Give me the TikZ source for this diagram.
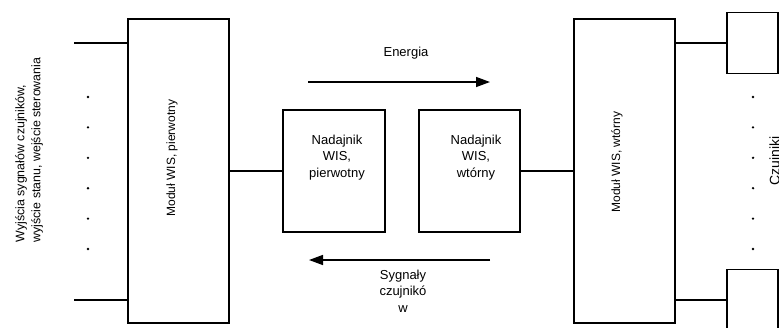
\documentclass[tikz,border=0pt]{standalone}
\usepackage{fontspec}
\setmainfont{Liberation Sans}
\usetikzlibrary{arrows.meta}
\tikzset{
  blok/.style={draw, line width=1.4pt, inner sep=0pt},
  lbl/.style={align=center, font=\fontsize{13}{16.5}\selectfont},
  rlbl/.style={rotate=90, font=\fontsize{12}{16}\selectfont},
  kropka/.style={fill=black},
  przeplyw/.style={line width=1.4pt, -{Triangle[length=14pt,width=10pt]}}
}
\begin{document}
\begin{tikzpicture}[x=1pt,y=-1pt,line width=1.4pt]
\useasboundingbox (0,0) rectangle (779,327);
\clip (0,0) rectangle (779,327);
% moduly
\node[blok, minimum width=101pt, minimum height=304pt] (modp) at (178.5,171) {};
\node[blok, minimum width=101pt, minimum height=304pt] (modw) at (624.5,171) {};
\node[rlbl] (modptxt) at (172,158) {Moduł WIS, pierwotny};
\node[rlbl] (modwtxt) at (617,162) {Moduł WIS, wtórny};
% nadajniki
\node[blok, minimum width=102pt, minimum height=122pt] (nadp) at (334,171) {};
\node[blok, minimum width=101pt, minimum height=122pt] (nadw) at (469.5,171) {};
\node[lbl] (nadptxt) at (337,157.5) {Nadajnik\\WIS,\\pierwotny};
\node[lbl] (nadwtxt) at (476,157.5) {Nadajnik\\WIS,\\wtórny};
\draw (modp.east) -- (nadp.west);
\draw (nadw.east) -- (modw.west);
% czujniki
\node[blok, minimum width=51pt, minimum height=61pt] (czt) at (752.5,43) {};
\node[blok, minimum width=51pt, minimum height=61pt] (czb) at (752.5,300) {};
\draw (modw.east |- czt.west) -- (czt.west);
\draw (modw.east |- czb.west) -- (czb.west);
\node[rotate=90, font=\fontsize{14}{16}\selectfont] (cztxt) at (776,161) {Czujniki};
% wejscia
\coordinate (we1) at (74,43);
\coordinate (we2) at (74,300);
\draw (we1) -- (we1 -| modp.west);
\draw (we2) -- (we2 -| modp.west);
\node[rlbl, align=left, font=\fontsize{12.4}{16}\selectfont] (wetxt) at (29,150)
  {Wyjścia sygnałów czujników,\\wyjście stanu, wejście sterowania};
% kropki
\foreach \i in {0,...,5}{
  \fill[kropka] (88,97+30.4*\i) circle [radius=1.3];
  \fill[kropka] (753,97+30.4*\i) circle [radius=1.3];
}
% strzalki
\coordinate (en1) at (308,82);
\coordinate (en2) at (490,82);
\coordinate (sy1) at (490,260);
\coordinate (sy2) at (309,260);
\draw[przeplyw] (en1) -- (en2);
\draw[przeplyw] (sy1) -- (sy2);
\node[lbl] (entxt) at (406,53) {Energia};
\node[lbl] (sytxt) at (403,291) {Sygnały\\czujnikó\\w};
\end{tikzpicture}
\end{document}
